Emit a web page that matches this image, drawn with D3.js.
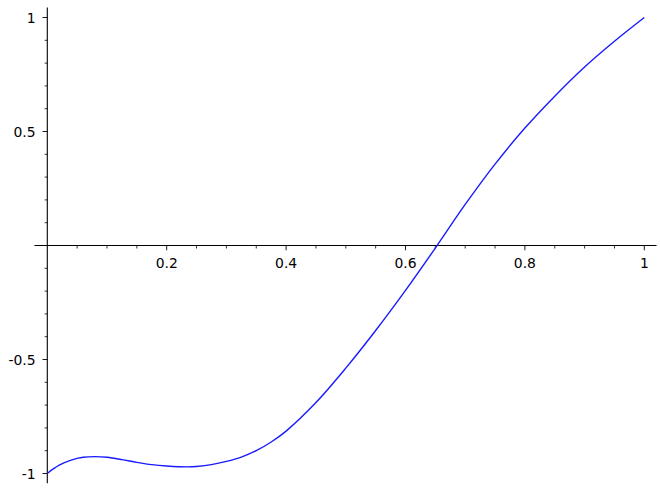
<!DOCTYPE html>
<html>
<head>
<meta charset="utf-8">
<script src="https://cdn.jsdelivr.net/npm/d3@7"></script>
<style>
  html, body { margin: 0; padding: 0; background: #fff; }
  svg { display: block; }
  text { font-family: "DejaVu Sans", sans-serif; font-size: 13.9px; fill: #000; }
</style>
</head>
<body>
<svg id="chart" width="660" height="500"></svg>
<script>
// Curve samples
const xValues = [0, 0.01, 0.02, 0.04, 0.06, 0.08, 0.10, 0.125, 0.15, 0.175, 0.20, 0.235, 0.25, 0.275, 0.30, 0.325, 0.35, 0.375, 0.40, 0.45, 0.50, 0.55, 0.60, 0.65, 0.70, 0.75, 0.80, 0.85, 0.90, 0.95, 1.0];
const yValues = [-1, -0.980, -0.963, -0.941, -0.929, -0.926, -0.929, -0.939, -0.951, -0.961, -0.967, -0.971, -0.969, -0.961, -0.947, -0.928, -0.900, -0.862, -0.814, -0.689, -0.538, -0.373, -0.197, -0.011, 0.180, 0.357, 0.515, 0.655, 0.783, 0.896, 1.0];

const xMajorTicks = [0.2, 0.4, 0.6, 0.8, 1];
const xTickLabels = ["0.2", "0.4", "0.6", "0.8", "1"];
const yMajorTicks = [-1, -0.5, 0.5, 1];
const yTickLabels = ["-1", "-0.5", "0.5", "1"];
const xMinorStep = 0.05;
const yMinorStep = 0.1;

const svg = d3.select("#chart");
const x = d3.scaleLinear().domain([0, 1]).range([47.3, 644.3]);
const y = d3.scaleLinear().domain([-1, 1]).range([473.5, 17.5]);

const x0 = x(0), y0 = y(0);

// axis lines
svg.append("line")
  .attr("x1", x(-0.0215)).attr("x2", x(1.0205))
  .attr("y1", y0).attr("y2", y0)
  .attr("stroke", "#000").attr("stroke-width", 1.1);
svg.append("line")
  .attr("x1", x0).attr("x2", x0)
  .attr("y1", y(1.044)).attr("y2", y(-1.043))
  .attr("stroke", "#000").attr("stroke-width", 1.1);

// x ticks
const xMinor = d3.range(1, 20).map(i => i * xMinorStep).filter(v => !xMajorTicks.some(m => Math.abs(m - v) < 1e-9));
svg.append("g").selectAll("line").data(xMinor).join("line")
  .attr("x1", d => x(d)).attr("x2", d => x(d))
  .attr("y1", y0).attr("y2", y0 + 3)
  .attr("stroke", "#000").attr("stroke-width", 0.8);
svg.append("g").selectAll("line").data(xMajorTicks).join("line")
  .attr("x1", d => x(d)).attr("x2", d => x(d))
  .attr("y1", y0).attr("y2", y0 + 4.8)
  .attr("stroke", "#000").attr("stroke-width", 0.9);
svg.append("g").selectAll("text").data(xMajorTicks).join("text")
  .attr("x", d => x(d)).attr("y", y0 + 22.3)
  .attr("text-anchor", "middle")
  .text((d, i) => xTickLabels[i]);

// y ticks
const yMinor = d3.range(-10, 11).map(i => i * yMinorStep).filter(v => Math.abs(v) > 1e-9 && !yMajorTicks.some(m => Math.abs(m - v) < 1e-9));
svg.append("g").selectAll("line").data(yMinor).join("line")
  .attr("x1", x0 - 2.6).attr("x2", x0)
  .attr("y1", d => y(d)).attr("y2", d => y(d))
  .attr("stroke", "#000").attr("stroke-width", 0.8);
svg.append("g").selectAll("line").data(yMajorTicks).join("line")
  .attr("x1", x0 - 4.8).attr("x2", x0)
  .attr("y1", d => y(d)).attr("y2", d => y(d))
  .attr("stroke", "#000").attr("stroke-width", 0.9);
svg.append("g").selectAll("text").data(yMajorTicks).join("text")
  .attr("x", x0 - 11.8).attr("y", d => y(d) + 5.1)
  .attr("text-anchor", "end")
  .text((d, i) => yTickLabels[i]);

// curve
const pts = xValues.map((v, i) => [v, yValues[i]]);
const line = d3.line().x(d => x(d[0])).y(d => y(d[1])).curve(d3.curveCatmullRom.alpha(0.5));
svg.append("path")
  .attr("d", line(pts))
  .attr("fill", "none")
  .attr("stroke", "#1a1aff")
  .attr("stroke-width", 1.4);
</script>
</body>
</html>
